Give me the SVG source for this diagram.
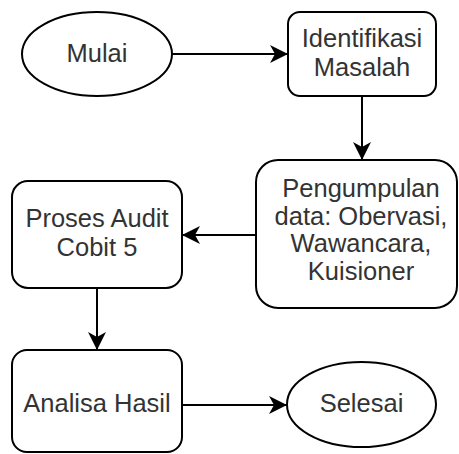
<svg xmlns="http://www.w3.org/2000/svg" width="459" height="454" viewBox="0 0 459 454">
  <style>
    .shape { fill: #ffffff; stroke: #000000; stroke-width: 2; }
    .label { font-family: "Liberation Sans", Arial, sans-serif; font-size: 25.5px; fill: #333333; text-anchor: middle; }
    .edge { fill: none; stroke: #000000; stroke-width: 2; }
  </style>
  <defs>
    <marker id="arrow" markerUnits="userSpaceOnUse" markerWidth="20" markerHeight="18" refX="18" refY="9" orient="auto" viewBox="0 0 20 18">
      <path d="M0,0 L18,9 L0,18 L5,9 Z" fill="#000000" stroke="none"/>
    </marker>
  </defs>
  <rect width="459" height="454" fill="#ffffff"/>

  <g id="edges">
    <path class="edge" d="M172,54 L288,54" marker-end="url(#arrow)"/>
    <path class="edge" d="M362,96 L362,160" marker-end="url(#arrow)"/>
    <path class="edge" d="M256,235 L182,235" marker-end="url(#arrow)"/>
    <path class="edge" d="M97,288 L97,350" marker-end="url(#arrow)"/>
    <path class="edge" d="M182,405 L287,405" marker-end="url(#arrow)"/>
  </g>

  <g id="mulai">
    <ellipse class="shape" cx="97" cy="54" rx="75" ry="42"/>
    <text class="label" x="97" y="62">Mulai</text>
  </g>

  <g id="identifikasi">
    <rect class="shape" x="288" y="12" width="148" height="84" rx="12" ry="12"/>
    <text class="label" x="362" y="47">Identifikasi</text>
    <text class="label" x="362" y="76">Masalah</text>
  </g>

  <g id="pengumpulan">
    <rect class="shape" x="256" y="160" width="201" height="148" rx="22" ry="22"/>
    <text class="label" x="361" y="197">Pengumpulan</text>
    <text class="label" x="361" y="225">data: Obervasi,</text>
    <text class="label" x="361" y="252">Wawancara,</text>
    <text class="label" x="361" y="280">Kuisioner</text>
  </g>

  <g id="proses">
    <rect class="shape" x="12" y="181" width="170" height="107" rx="16" ry="16"/>
    <text class="label" x="97" y="227">Proses Audit</text>
    <text class="label" x="97" y="256">Cobit 5</text>
  </g>

  <g id="analisa">
    <rect class="shape" x="12" y="350" width="170" height="102" rx="15" ry="15"/>
    <text class="label" x="97" y="412">Analisa Hasil</text>
  </g>

  <g id="selesai">
    <ellipse class="shape" cx="361.5" cy="404.5" rx="74.5" ry="42.5"/>
    <text class="label" x="361.5" y="412">Selesai</text>
  </g>
</svg>
